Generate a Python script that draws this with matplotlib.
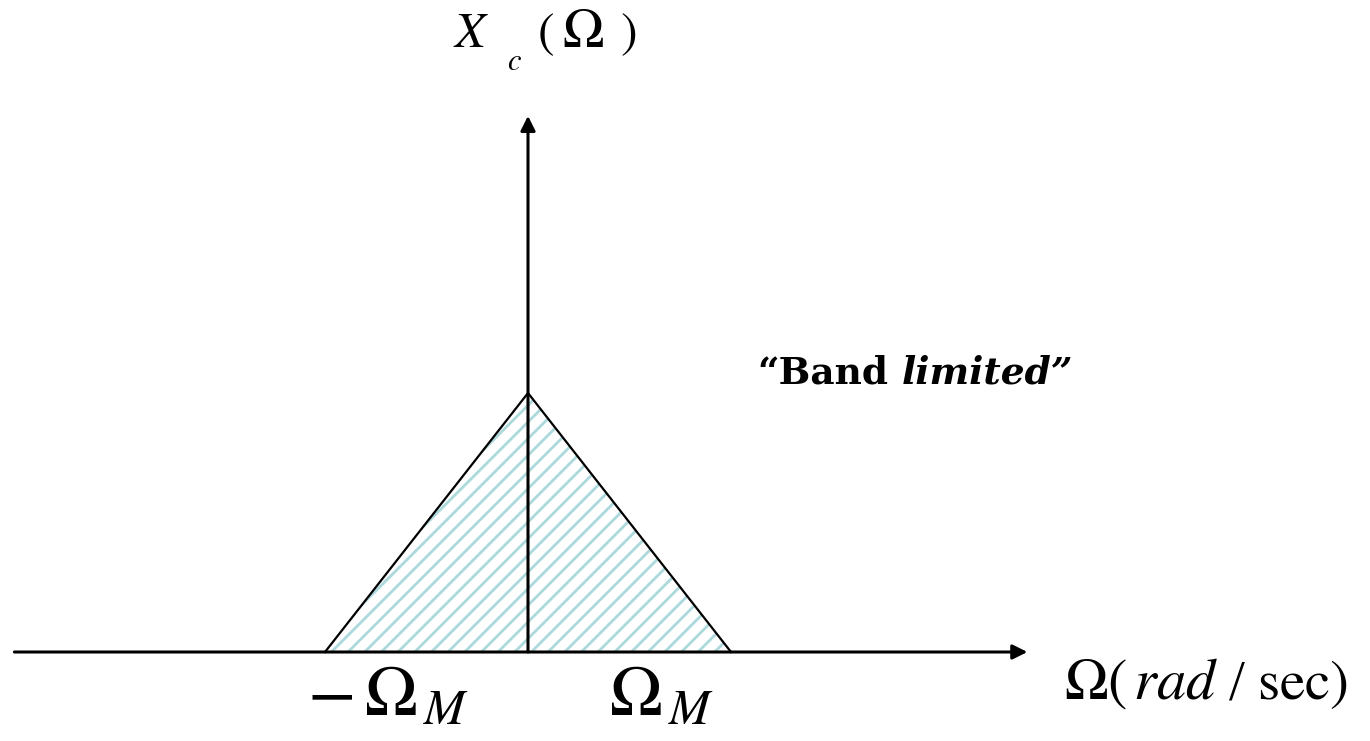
import matplotlib
matplotlib.use("Agg")
import matplotlib.pyplot as plt

# spectrum of a band limited signal (triangle), in units of Omega_M
omega = [-1.0, 0.0, 1.0]
magnitude = [0.0, 1.0, 0.0]

omega_ticks = [-1.0, 1.0]
omega_tick_labels = [r"$-\,\Omega_{\,M}$", r"$\Omega_{\,M}$"]

plt.rcParams["mathtext.fontset"] = "stix"
plt.rcParams["font.family"] = ["Liberation Serif", "DejaVu Serif"]
plt.rcParams["hatch.linewidth"] = 2.0

HATCH = "#acd9dc"
W, H = 1370, 741


def fig_xy(px, py):
    # pixel position (from top-left) -> figure fraction, for free labels
    return px / W, 1 - py / H


fig = plt.figure(figsize=(13.7, 7.41), dpi=100)
ax = fig.add_axes([0, 0, 1, 1])
ax.set_xlim(-528 / 203, (1370 - 528) / 203)
ax.set_ylim(-89 / 259, 652 / 259)
ax.axis("off")

# shaded triangle
ax.fill(omega, magnitude, facecolor="white", edgecolor=HATCH,
        hatch="//", linewidth=0, zorder=1)
ax.plot(omega, magnitude, color="black", lw=1.6, zorder=3)

# axes with arrows
arrow = dict(arrowstyle="-|>", color="black", lw=2.2,
             mutation_scale=22, shrinkA=0, shrinkB=0)
ax.annotate("", xy=(2.46, 0), xytext=(-2.53, 0), arrowprops=arrow, zorder=4)
ax.annotate("", xy=(0, 2.07), xytext=(0, 0), arrowprops=arrow, zorder=4)

# tick labels under the band edges
offsets = [(-18, -63), (-122, -63)]
for t, lab, off in zip(omega_ticks, omega_tick_labels, offsets):
    ax.annotate(lab, xy=(t, 0), xytext=off, textcoords="offset pixels",
                fontsize=51, ha="left", va="baseline")

# y label X_c(Omega), spaced out like the original
fig.text(*fig_xy(453, 47), r"$X$", fontsize=36, ha="left", va="baseline")
fig.text(*fig_xy(507, 70), r"$c$", fontsize=22, ha="left", va="baseline")
fig.text(*fig_xy(537, 47), r"$($", fontsize=36, ha="left", va="baseline")
fig.text(*fig_xy(562, 47), r"$\Omega$", fontsize=40, ha="left", va="baseline")
fig.text(*fig_xy(620, 47), r"$)$", fontsize=36, ha="left", va="baseline")

# x label, pieces spaced like the equation-editor original
fig.text(*fig_xy(1064, 699), r"$\Omega(\,rad$", fontsize=42,
         ha="left", va="baseline")
fig.text(*fig_xy(1229, 699), "/", fontsize=41, ha="left", va="baseline")
fig.text(*fig_xy(1257, 699), r"$\mathrm{sec})$", fontsize=41,
         ha="left", va="baseline")

# annotation
fig.text(*fig_xy(757, 383), "\u201cBand", fontsize=27, fontweight="bold",
         family="DejaVu Serif", ha="left", va="baseline")
fig.text(*fig_xy(902, 383), "limited\u201d", fontsize=27, fontweight="bold",
         fontstyle="italic", family="DejaVu Serif", ha="left", va="baseline")

fig.savefig("out.png", dpi=100)
